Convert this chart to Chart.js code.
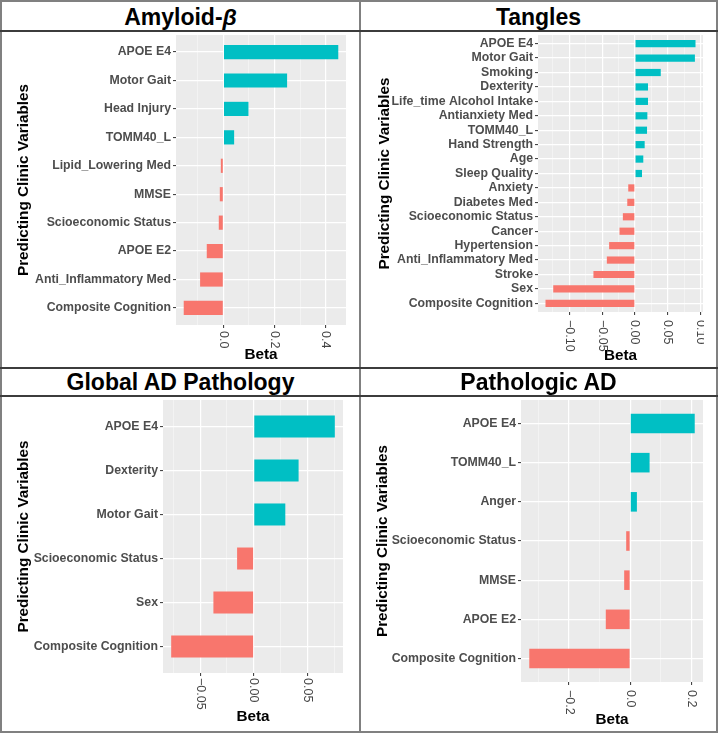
<!DOCTYPE html>
<html>
<head>
<meta charset="utf-8">
<script src="https://cdn.jsdelivr.net/npm/chart.js@4.4.1/dist/chart.umd.min.js"></script>
<style>
  body { margin: 0; background: #fff; }
  #fig { position: relative; width: 720px; height: 736px; font-family: 'Liberation Sans', Arial, sans-serif; }
  #fig canvas { position: absolute; }
  .ttl { position: absolute; text-align: center; font-weight: bold; font-size: 23px; line-height: 26px; color: #000; }
  .ln { position: absolute; }
</style>
</head>
<body>
<div id="fig">
  <canvas id="c1" width="357" height="335" style="left:2px;top:32px"></canvas>
  <canvas id="c2" width="343" height="335" style="left:361px;top:32px"></canvas>
  <canvas id="c3" width="357" height="334" style="left:2px;top:397px"></canvas>
  <canvas id="c4" width="355" height="334" style="left:361px;top:397px"></canvas>

  <div class="ttl" style="left:2px;top:4px;width:357px">Amyloid-<i>β</i></div>
  <div class="ttl" style="left:361px;top:4px;width:355px">Tangles</div>
  <div class="ttl" style="left:2px;top:369px;width:357px">Global AD Pathology</div>
  <div class="ttl" style="left:361px;top:369px;width:355px">Pathologic AD</div>

  <div class="ln" style="left:0;top:0;width:718px;height:733px;border:2px solid #808080;box-sizing:border-box"></div>
  <div class="ln" style="left:359px;top:0;width:2px;height:733px;background:#808080"></div>
  <div class="ln" style="left:0;top:30px;width:718px;height:2px;background:#3c3c3c"></div>
  <div class="ln" style="left:0;top:367px;width:718px;height:2px;background:#3c3c3c"></div>
  <div class="ln" style="left:0;top:395px;width:718px;height:2px;background:#3c3c3c"></div>
</div>

<script>
// couleurs ggplot par défaut
const TEAL = '#00BFC4';
const SALMON = '#F8766D';
const FONT = "'Liberation Sans', Arial, sans-serif";

// Amyloid-beta
const amyloidVars = ['APOE E4', 'Motor Gait', 'Head Injury', 'TOMM40_L', 'Lipid_Lowering Med',
  'MMSE', 'Scioeconomic Status', 'APOE E2', 'Anti_Inflammatory Med', 'Composite Cognition'];
const amyloidBeta = [0.449, 0.249, 0.098, 0.042, -0.010, -0.014, -0.018, -0.065, -0.091, -0.155];
const amyloidTicks = [0, 0.2, 0.4];
const amyloidTickLabels = ['0.0', '0.2', '0.4'];

// Tangles
const tanglesVars = ['APOE E4', 'Motor Gait', 'Smoking', 'Dexterity', 'Life_time Alcohol Intake',
  'Antianxiety Med', 'TOMM40_L', 'Hand Strength', 'Age', 'Sleep Quality', 'Anxiety', 'Diabetes Med',
  'Scioeconomic Status', 'Cancer', 'Hypertension', 'Anti_Inflammatory Med', 'Stroke', 'Sex',
  'Composite Cognition'];
const tanglesBeta = [0.0922, 0.0913, 0.0393, 0.0199, 0.0199, 0.0189, 0.0184, 0.0148, 0.0127, 0.0107,
  -0.0102, -0.0117, -0.0184, -0.0235, -0.0393, -0.0428, -0.0632, -0.1244, -0.1362];
const tanglesTicks = [-0.10, -0.05, 0, 0.05, 0.10];
const tanglesTickLabels = ['\u22120.10', '\u22120.05', '0.00', '0.05', '0.10'];

// Global AD Pathology
const globalVars = ['APOE E4', 'Dexterity', 'Motor Gait', 'Scioeconomic Status', 'Sex', 'Composite Cognition'];
const globalBeta = [0.0757, 0.0419, 0.0295, -0.0155, -0.0376, -0.077];
const globalTicks = [-0.05, 0, 0.05];
const globalTickLabels = ['\u22120.05', '0.00', '0.05'];

// Pathologic AD
const pathoVars = ['APOE E4', 'TOMM40_L', 'Anger', 'Scioeconomic Status', 'MMSE', 'APOE E2', 'Composite Cognition'];
const pathoBeta = [0.211, 0.0634, 0.0219, -0.0131, -0.0197, -0.0798, -0.330];
const pathoTicks = [-0.2, 0, 0.2];
const pathoTickLabels = ['\u22120.2', '0.0', '0.2'];

// fond gris du panneau
const panelBg = {
  id: 'panelBg',
  beforeDraw(chart) {
    const { ctx, chartArea: a } = chart;
    ctx.save();
    ctx.fillStyle = '#EBEBEB';
    ctx.fillRect(a.left, a.top, a.width, a.height);
    ctx.restore();
  }
};

// étiquettes de l'axe x tournées dans le sens horaire (comme ggplot angle = -90)
const xLabels = {
  id: 'xLabels',
  afterDraw(chart, args, opts) {
    const ctx = chart.ctx;
    const sx = chart.scales.x;
    ctx.save();
    ctx.font = '12.5px ' + FONT;
    ctx.fillStyle = '#444444';
    ctx.textAlign = 'left';
    ctx.textBaseline = 'middle';
    opts.ticks.forEach((v, i) => {
      ctx.save();
      ctx.translate(sx.getPixelForValue(v), chart.chartArea.bottom + opts.gap);
      ctx.rotate(Math.PI / 2);
      ctx.fillText(opts.labels[i], 0, 0);
      ctx.restore();
    });
    ctx.restore();
  }
};

function makePanel(id, vars, betas, ticks, tickLabels, box) {
  const lo = Math.min(0, ...betas);
  const hi = Math.max(0, ...betas);
  const ex = (hi - lo) * 0.05;
  const xmin = lo - ex, xmax = hi + ex;
  const step = ticks[1] - ticks[0];
  const half = step / 2;
  const isMajor = v => Math.abs(v / step - Math.round(v / step)) < 1e-6;

  new Chart(document.getElementById(id), {
    type: 'bar',
    data: {
      datasets: [{
        data: betas.map((b, i) => ({ x: b, y: i })),
        backgroundColor: c => (c.raw && c.raw.x >= 0) ? TEAL : SALMON,
        borderWidth: 0,
        barPercentage: 0.5,
        categoryPercentage: 1
      }]
    },
    options: {
      indexAxis: 'y',
      responsive: false,
      animation: false,
      layout: { padding: { top: 3, right: box.right, left: 0, bottom: 0 } },
      plugins: {
        legend: { display: false },
        tooltip: { enabled: false },
        xLabels: { ticks: ticks, labels: tickLabels, gap: box.gap }
      },
      scales: {
        x: {
          type: 'linear',
          min: xmin,
          max: xmax,
          offset: false,
          afterBuildTicks: s => {
            const t = [];
            for (let k = Math.ceil(xmin / half); k * half <= xmax; k++) t.push({ value: k * half });
            s.ticks = t;
          },
          afterFit: s => { s.height = box.xh; s.paddingLeft = 0; s.paddingRight = 0; },
          ticks: { display: false, autoSkip: false },
          grid: {
            offset: false,
            color: c => isMajor(c.tick.value) ? '#FFFFFF' : 'rgba(255,255,255,0.65)',
            lineWidth: c => isMajor(c.tick.value) ? 1.2 : 0.6,
            tickLength: 3,
            tickWidth: 1,
            tickColor: c => isMajor(c.tick.value) ? '#333333' : 'rgba(0,0,0,0)'
          },
          border: { display: false },
          title: {
            display: true, text: 'Beta', color: '#000',
            font: { family: FONT, size: 15.3, weight: 'bold' },
            padding: { top: 0, bottom: box.xtp }
          }
        },
        y: {
          type: 'linear',
          reverse: true,
          offset: false,
          min: -0.6,
          max: vars.length - 1 + 0.6,
          afterBuildTicks: s => { s.ticks = vars.map((v, i) => ({ value: i })); },
          afterFit: s => { s.width = box.yw; s.paddingTop = 0; s.paddingBottom = 0; },
          ticks: {
            autoSkip: false,
            padding: 2,
            color: '#4D4D4D',
            font: { family: FONT, size: 12.3, weight: 'bold' },
            callback: v => vars[v]
          },
          grid: { offset: false, color: '#FFFFFF', lineWidth: 1.2, tickLength: 3, tickWidth: 1, tickColor: '#333333' },
          border: { display: false },
          title: {
            display: true, text: 'Predicting Clinic Variables', color: '#000',
            font: { family: FONT, size: 15.3, weight: 'bold' },
            padding: { top: box.ytp, bottom: 0 }
          }
        }
      }
    },
    plugins: [panelBg, xLabels]
  });
}

makePanel('c1', amyloidVars, amyloidBeta, amyloidTicks, amyloidTickLabels,
  { right: 13, yw: 174, xh: 42, ytp: 13, xtp: 3, gap: 6 });
makePanel('c2', tanglesVars, tanglesBeta, tanglesTicks, tanglesTickLabels,
  { right: 1, yw: 177, xh: 55, ytp: 15, xtp: 2.5, gap: 8 });
makePanel('c3', globalVars, globalBeta, globalTicks, globalTickLabels,
  { right: 16, yw: 161, xh: 58, ytp: 13, xtp: 5, gap: 5 });
makePanel('c4', pathoVars, pathoBeta, pathoTicks, pathoTickLabels,
  { right: 13, yw: 160, xh: 49, ytp: 13, xtp: 2.5, gap: 8 });
</script>
</body>
</html>
